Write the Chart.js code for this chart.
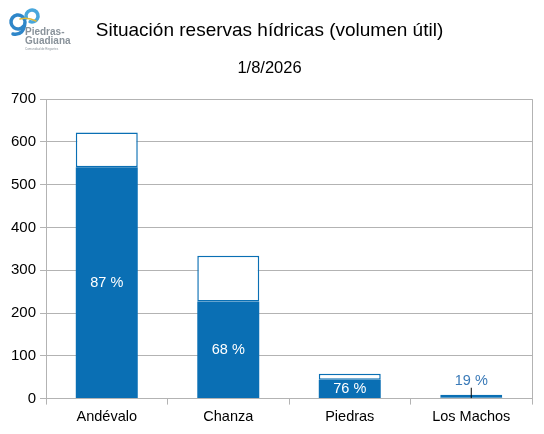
<!DOCTYPE html>
<html>
<head>
<meta charset="utf-8">
<script src="https://cdn.jsdelivr.net/npm/chart.js@4.4.1/dist/chart.umd.min.js"></script>
<style>
  html, body { margin: 0; padding: 0; background: #fff; }
  #wrap { width: 544px; height: 434px; }
</style>
</head>
<body>
<div id="wrap"><canvas id="reservasChart"></canvas></div>
<script>
const embalses = ['Andévalo', 'Chanza', 'Piedras', 'Los Machos'];
const capacidad = [622, 334, 58, 9];
const volumen = [541, 227, 44, 1.7];
const porcentajes = [87, 68, 76, 19];
const yTicks = [0, 100, 200, 300, 400, 500, 600, 700];

const azul = '#0a6fb4';
const gris = '#b3b3b3';
const fuente = '"Liberation Sans", Arial, sans-serif';

const libre = capacidad.map((c, i) => c - volumen[i]);

const logoPlugin = {
  id: 'logo',
  afterDraw(chart) {
    const ctx = chart.ctx;
    ctx.save();
    ctx.lineCap = 'round';
    ctx.strokeStyle = '#2e86c9';
    ctx.lineWidth = 3.5;
    ctx.beginPath();
    ctx.arc(18, 22, 7, 0.2 * Math.PI, 1.9 * Math.PI);
    ctx.stroke();
    ctx.beginPath();
    ctx.moveTo(25, 22);
    ctx.quadraticCurveTo(24, 36, 13, 34);
    ctx.stroke();
    ctx.strokeStyle = '#49a7dc';
    ctx.beginPath();
    ctx.arc(32, 16, 6, 0.9 * Math.PI, 2.6 * Math.PI);
    ctx.stroke();
    ctx.strokeStyle = '#e0b93a';
    ctx.lineWidth = 1.5;
    ctx.beginPath();
    ctx.moveTo(20, 19);
    ctx.quadraticCurveTo(28, 17, 36, 21);
    ctx.stroke();
    ctx.fillStyle = '#8a939b';
    ctx.font = 'bold 10px ' + fuente;
    ctx.textBaseline = 'alphabetic';
    ctx.fillText('Piedras-', 25, 35);
    ctx.fillText('Guadiana', 25, 44);
    ctx.font = '3px ' + fuente;
    ctx.fillText('Comunidad de Regantes', 25, 50);
    ctx.restore();
  }
};

const porcentajePlugin = {
  id: 'porcentajes',
  afterDatasetsDraw(chart) {
    const ctx = chart.ctx;
    const lleno = chart.getDatasetMeta(0).data;
    const vacio = chart.getDatasetMeta(1).data;
    ctx.save();
    ctx.font = '14.5px ' + fuente;
    ctx.textAlign = 'center';
    ctx.textBaseline = 'middle';
    lleno.forEach((bar, i) => {
      const texto = porcentajes[i] + ' %';
      const alto = bar.base - bar.y;
      if (alto > 14) {
        ctx.fillStyle = '#ffffff';
        ctx.fillText(texto, bar.x, (bar.y + bar.base) / 2);
      } else {
        const top = vacio[i].y;
        ctx.fillStyle = '#3a7ab8';
        ctx.fillText(texto, bar.x, top - 14);
        ctx.strokeStyle = '#000';
        ctx.lineWidth = 1;
        ctx.beginPath();
        ctx.moveTo(bar.x, top - 7);
        ctx.lineTo(bar.x, bar.base);
        ctx.stroke();
      }
    });
    ctx.restore();
  }
};

new Chart(document.getElementById('reservasChart'), {
  type: 'bar',
  data: {
    labels: embalses,
    datasets: [{
      label: 'Volumen',
      data: volumen,
      backgroundColor: azul,
      borderWidth: 0,
      categoryPercentage: 1,
      barPercentage: 0.51
    }, {
      label: 'Capacidad libre',
      data: libre,
      backgroundColor: '#ffffff',
      borderColor: azul,
      borderWidth: 1.5,
      borderSkipped: false,
      categoryPercentage: 1,
      barPercentage: 0.51
    }]
  },
  options: {
    responsive: true,
    maintainAspectRatio: false,
    animation: false,
    layout: { padding: { left: 7, right: 12, top: 0, bottom: 4 } },
    plugins: {
      legend: { display: false },
      tooltip: { enabled: false },
      title: {
        display: true,
        text: 'Situación reservas hídricas (volumen útil)',
        color: '#000',
        font: { family: fuente, size: 19, weight: 'normal' },
        padding: { top: 19.5, bottom: 16 }
      },
      subtitle: {
        display: true,
        text: '1/8/2026',
        color: '#000',
        font: { family: fuente, size: 16.5, weight: 'normal' },
        padding: { bottom: 21 }
      }
    },
    scales: {
      x: {
        stacked: true,
        border: { color: gris },
        grid: {
          offset: true,
          color: (c) => c.type === 'scale' ? gris : 'rgba(0,0,0,0)',
          tickColor: gris,
          tickLength: 6
        },
        ticks: {
          color: '#000',
          padding: 4,
          font: { family: fuente, size: 14.5 }
        }
      },
      y: {
        stacked: true,
        min: 0,
        max: 700,
        afterBuildTicks(scale) {
          scale.ticks = yTicks.map(v => ({ value: v }));
        },
        border: { color: gris },
        grid: { color: gris, tickColor: gris, tickLength: 6 },
        ticks: {
          color: '#000',
          padding: 4,
          font: { family: fuente, size: 15 }
        }
      }
    }
  },
  plugins: [logoPlugin, porcentajePlugin]
});
</script>
</body>
</html>
